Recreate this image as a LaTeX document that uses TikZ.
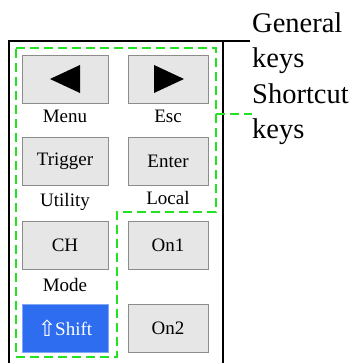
\documentclass[tikz,border=0pt]{standalone}
\usepackage{fontspec}
\setmainfont{Liberation Serif}
\newfontfamily\arrowfont{DejaVu Sans}
\definecolor{keyfill}{HTML}{E6E6E6}
\definecolor{keyedge}{HTML}{8C8C8C}
\definecolor{shiftblue}{HTML}{2F6DF0}
\definecolor{groupgreen}{HTML}{22E222}
\begin{document}
\begin{tikzpicture}[x=1pt,y=-1pt,
  key/.style={draw=keyedge, fill=keyfill, line width=0.8pt, inner sep=0pt,
    minimum height=48pt, font=\fontsize{19}{22}\selectfont},
  leftkey/.style={key, minimum width=86pt},
  rightkey/.style={key, minimum width=80pt},
  caption/.style={anchor=base, inner sep=0pt, font=\fontsize{19}{22}\selectfont},
  grouptext/.style={anchor=base west, inner sep=0pt, font=\fontsize{28.5}{34}\selectfont},
  groupline/.style={draw=groupgreen, line width=1.6pt, dash pattern=on 9pt off 5pt},
  frame/.style={draw=black, line width=1.2pt}]
\useasboundingbox (0,0) rectangle (353,363);

% panel outline
\coordinate (fbl) at (9,363);
\coordinate (ftl) at (9,41);
\coordinate (ftr) at (223,41);
\coordinate (fbr) at (223,363);
\coordinate (ftip) at (250,41);
\draw[frame] (fbl) -- (ftl) -- (ftip);
\draw[frame] (ftr) -- (fbr);

% keys
\node[leftkey]  (kleft)    at (65,79)  {};
\node[rightkey] (kright)   at (168,79) {};
\node[leftkey]  (ktrigger) at (65,161) {Trigger};
\node[rightkey] (kenter)   at (168,161) {Enter};
\node[leftkey]  (kch)      at (65,245) {CH};
\node[rightkey] (kon1)     at (168,245) {On1};
\node[leftkey, fill=shiftblue, draw=shiftblue!60!white, text=white] (kshift) at (65,328.5)
  {{\arrowfont\fontsize{22}{24}\selectfont\raisebox{-1pt}{⇧}}\kern-1pt Shift};
\node[rightkey] (kon2)     at (168,328.5) {On2};

% arrow glyphs on the first row
\fill[shift={(kleft.center)}] (-15,0) -- (15,-14) -- (15,14) -- cycle;
\fill[shift={(kright.center)}] (16,0) -- (-14,-14) -- (-14,14) -- cycle;

% secondary functions
\node[caption] (lmenu)    at (65,123)  {Menu};
\node[caption] (lesc)     at (168,123) {Esc};
\node[caption] (lutility) at (65,206)  {Utility};
\node[caption] (llocal)   at (168,204) {Local};
\node[caption] (lmode)    at (65,291)  {Mode};

% key groups
\coordinate (g1) at (16,48);
\coordinate (g2) at (216,48);
\coordinate (g3) at (216,212);
\coordinate (g4) at (117,212);
\coordinate (g5) at (117,357);
\coordinate (g6) at (16,357);
\draw[groupline] (g1) -- (g2) -- (g3) -- (g4) -- (g5) -- (g6) -- cycle;
\coordinate (gpin) at (216,114);
\coordinate (gend) at (252,114);
\draw[groupline] (gpin) -- (gend);

% group labels
\node[grouptext] (tgeneral)  at (252,33)  {General};
\node[grouptext] (tkeys1)    at (252,68)  {keys};
\node[grouptext] (tshortcut) at (252,104) {Shortcut};
\node[grouptext] (tkeys2)    at (252,139) {keys};
\end{tikzpicture}
\end{document}
